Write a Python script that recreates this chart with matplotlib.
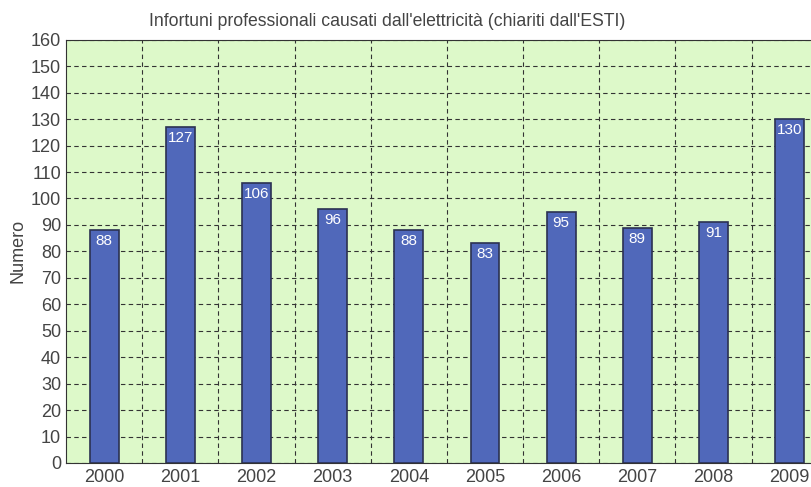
import matplotlib.pyplot as plt
import numpy as np

plt.rcParams['font.family'] = ['Liberation Sans', 'DejaVu Sans']

years = ["2000", "2001", "2002", "2003", "2004", "2005", "2006", "2007", "2008", "2009"]
counts = [88, 127, 106, 96, 88, 83, 95, 89, 91, 130]

fig = plt.figure(figsize=(8.11, 4.87), dpi=100)
ax = fig.add_axes([0.0814, 0.0493, 0.9186, 0.869])
ax.set_facecolor("#ddf9c9")

x = np.arange(len(years))
ax.bar(x, counts, width=0.38, color="#5068ba", edgecolor="#2b3152", linewidth=1.2, zorder=3)

# value labels inside the top of each bar
for xi, v in zip(x, counts):
    ax.text(xi, v - 1.5, str(v), ha="center", va="top", color="white", fontsize=11, zorder=4)

ax.set_xlim(-0.5, 9.28)
ax.set_ylim(0, 160)
ax.set_yticks(np.arange(0, 161, 10))
ax.set_xticks(x)
ax.set_xticklabels(years)
ax.set_xticks(np.arange(0.5, 9.5, 1), minor=True)

ax.grid(axis="y", which="major", color="#333333", linestyle=(0, (4, 3)), linewidth=0.8, zorder=1)
ax.grid(axis="x", which="minor", color="#333333", linestyle=(0, (4, 3)), linewidth=0.8, zorder=1)
ax.tick_params(which="both", length=0, labelsize=13, colors="#444444")
ax.tick_params(axis="x", pad=4)

for s in ["top", "left", "bottom"]:
    ax.spines[s].set_color("#333333")
ax.spines["right"].set_visible(False)

ax.set_ylabel("Numero", fontsize=13, color="#444444", labelpad=3)
fig.text(0.478, 0.955, "Infortuni professionali causati dall'elettricità (chiariti dall'ESTI)",
         ha="center", va="center", fontsize=12.7, color="#444444")

fig.savefig("out.png", dpi=100)
